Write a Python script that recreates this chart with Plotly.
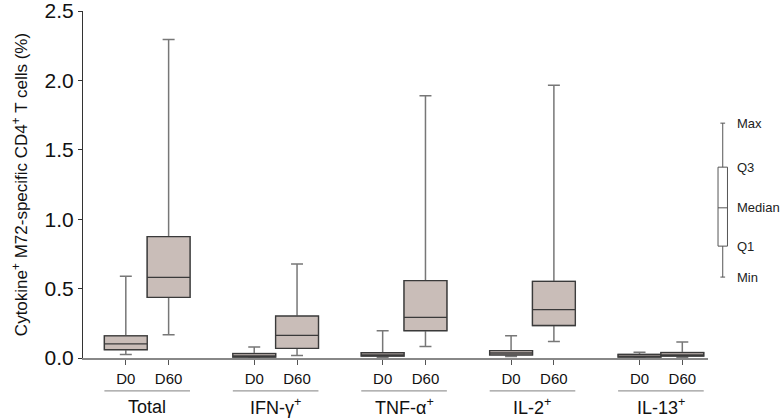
import plotly.graph_objects as go

# ---- data ----
groups = ["Total", "IFN-γ<sup>+</sup>", "TNF-α<sup>+</sup>", "IL-2<sup>+</sup>", "IL-13<sup>+</sup>"]
timepoints = ["D0", "D60"]

# order: Total D0, Total D60, IFN D0, IFN D60, TNF D0, TNF D60, IL2 D0, IL2 D60, IL13 D0, IL13 D60
mins    = [0.025, 0.168, 0.003, 0.018, 0.005, 0.082, 0.010, 0.119, 0.001, 0.005]
q1s     = [0.060, 0.437, 0.007, 0.070, 0.014, 0.197, 0.022, 0.234, 0.007, 0.014]
medians = [0.102, 0.581, 0.016, 0.163, 0.022, 0.292, 0.036, 0.348, 0.012, 0.022]
q3s     = [0.160, 0.874, 0.032, 0.302, 0.038, 0.557, 0.053, 0.552, 0.026, 0.039]
maxs    = [0.589, 2.295, 0.079, 0.677, 0.197, 1.890, 0.160, 1.965, 0.041, 0.116]

y_ticks = [0.0, 0.5, 1.0, 1.5, 2.0, 2.5]

# key (legend schematic) values
key_labels = ["Min", "Q1", "Median", "Q3", "Max"]
key_values = [0.583, 0.806, 1.082, 1.375, 1.692]

# ---- positions ----
positions = []
tick_text = []
for gi in range(len(groups)):
    for ti, tp in enumerate(timepoints):
        positions.append(3 * gi + ti)
        tick_text.append(tp)

FONT = "Liberation Sans, Arial, Helvetica, sans-serif"
FILL = "#c9bdb8"

fig = go.Figure()
# whiskers (lighter gray)
fig.add_trace(go.Box(
    x=positions, q1=q1s, median=medians, q3=q3s,
    lowerfence=mins, upperfence=maxs,
    width=1.0, whiskerwidth=0.28,
    fillcolor=FILL,
    line=dict(color="#777777", width=1.5),
    boxpoints=False, showlegend=False, hoverinfo="skip",
))
# boxes (dark outline) drawn on top
fig.add_trace(go.Box(
    x=positions, q1=q1s, median=medians, q3=q3s,
    lowerfence=q1s, upperfence=q3s,
    width=1.0, whiskerwidth=0,
    fillcolor=FILL,
    line=dict(color="#3a3a3a", width=1.3),
    boxpoints=False, showlegend=False, hoverinfo="skip",
))

# key box on a separate x axis
fig.add_trace(go.Box(
    x=[0], q1=[key_values[1]], median=[key_values[2]], q3=[key_values[3]],
    lowerfence=[key_values[0]], upperfence=[key_values[4]],
    width=0.95, whiskerwidth=0.5,
    fillcolor="white", line=dict(color="#555555", width=1),
    boxpoints=False, showlegend=False, hoverinfo="skip",
    xaxis="x2", yaxis="y",
))
for lab, val in zip(key_labels, key_values):
    fig.add_annotation(x=1.25, y=val, xref="x2", yref="y", text=lab,
                       showarrow=False, xanchor="left", yanchor="middle",
                       font=dict(family=FONT, size=13, color="#222"))

# group labels and underlines
for gi, g in enumerate(groups):
    fig.add_annotation(x=3 * gi + 0.5, y=-0.14, xref="x", yref="paper", text=g,
                       showarrow=False, xanchor="center", yanchor="middle",
                       font=dict(family=FONT, size=18, color="#111"))
    fig.add_shape(type="line", xref="x", yref="paper",
                  x0=3 * gi - 0.5, x1=3 * gi + 1.5, y0=-0.095, y1=-0.095,
                  line=dict(color="#9a9a9a", width=1.2))

fig.update_layout(
    width=780, height=418,
    margin=dict(l=83, r=0, t=11, b=60),
    plot_bgcolor="white", paper_bgcolor="white",
    font=dict(family=FONT, color="#111"),
    xaxis=dict(
        domain=[0, 0.8967], range=[-1, 13.6],
        tickmode="array", tickvals=positions, ticktext=tick_text,
        ticks="outside", ticklen=5, tickcolor="#555", tickwidth=1,
        showline=True, linecolor="#888888", linewidth=1.5,
        showgrid=False, zeroline=False,
        tickfont=dict(family=FONT, size=15, color="#111"),
        ticklabelstandoff=1,
    ),
    xaxis2=dict(
        domain=[0.9, 1.0], range=[-1.25, 5.75], anchor="y",
        visible=False, showgrid=False, zeroline=False,
    ),
    yaxis=dict(
        range=[0, 2.5], tickvals=y_ticks,
        ticktext=[f"{v:.1f}" for v in y_ticks],
        ticks="outside", ticklen=4, tickcolor="#333",
        showline=True, linecolor="#333", linewidth=1.2,
        showgrid=False, zeroline=False,
        tickfont=dict(family=FONT, size=21, color="#111"),
        ticklabeloverflow="allow",
        automargin=False,
        title=dict(text="Cytokine<sup>+</sup> M72-specific CD4<sup>+</sup> T cells (%)",
                   font=dict(family=FONT, size=17, color="#111"), standoff=12),
    ),
)

fig.write_html("out.html", config={"displayModeBar": False},
               post_script="document.body.style.margin='0';")
